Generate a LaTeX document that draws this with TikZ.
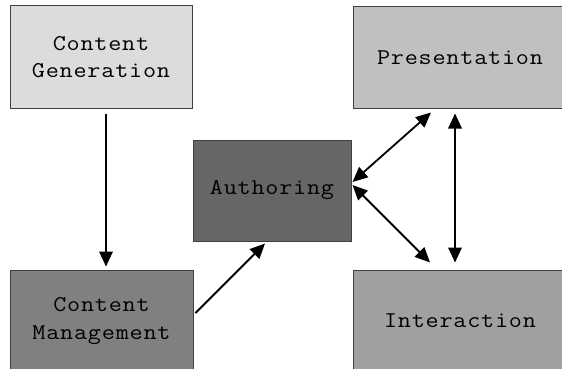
\documentclass[tikz,border=0pt]{standalone}
\usepackage{fontspec}
\newfontfamily\cour{Latin Modern Mono}[FakeStretch=1.13,LetterSpace=3.5]
\usetikzlibrary{arrows.meta}
\definecolor{cgfill}{RGB}{220,220,220}
\definecolor{pfill}{RGB}{192,192,192}
\definecolor{afill}{RGB}{102,102,102}
\definecolor{cmfill}{RGB}{128,128,128}
\definecolor{ifill}{RGB}{160,160,160}
\definecolor{edge}{RGB}{64,64,64}
\begin{document}
\begin{tikzpicture}[x=1pt,y=-1pt,
  box/.style={draw=edge, line width=1pt, rectangle, inner sep=0pt, align=center,
    font=\cour\fontsize{22.5}{27.5}\selectfont},
  arr/.style={line width=1.8pt, -{Triangle[length=15pt,width=13.5pt]}},
  darr/.style={line width=1.8pt, {Triangle[length=15pt,width=13.5pt]}-{Triangle[length=15pt,width=13.5pt]}}]
\useasboundingbox (0,0) rectangle (562,369);
\fill[white] (0,0) rectangle (562,369);
\node[box, fill=cgfill, minimum width=182pt, minimum height=102pt] (CG) at (101,57) {Content\\Generation};
\node[box, fill=pfill, minimum width=214pt, minimum height=101pt] (P) at (460,57.5) {Presentation};
\node[box, fill=afill, minimum width=158pt, minimum height=101pt] (A) at (272,190.5) {Authoring};
\node[box, fill=cmfill, minimum width=183pt, minimum height=102pt] (CM) at (101.5,321) {Content\\Management};
\node[box, fill=ifill, minimum width=214pt, minimum height=102pt] (I) at (460,321) {Interaction};
\draw[arr] ([xshift=5pt,yshift=-5pt]CG.south) -- ([xshift=4.5pt,yshift=3pt]CM.north);
\draw[arr] ([xshift=2pt,yshift=8pt]CM.east) -- ([xshift=-7pt,yshift=-2pt]A.south);
\draw[darr] ([xshift=1pt,yshift=8.5pt]A.east) -- ([xshift=-29pt,yshift=-4pt]P.south);
\draw[darr] ([xshift=1pt,yshift=5.5pt]A.east) -- ([xshift=-30pt,yshift=7pt]I.north);
\draw[darr] ([xshift=-5pt,yshift=-5pt]P.south) -- ([xshift=-5pt,yshift=7pt]I.north);
\end{tikzpicture}
\end{document}
